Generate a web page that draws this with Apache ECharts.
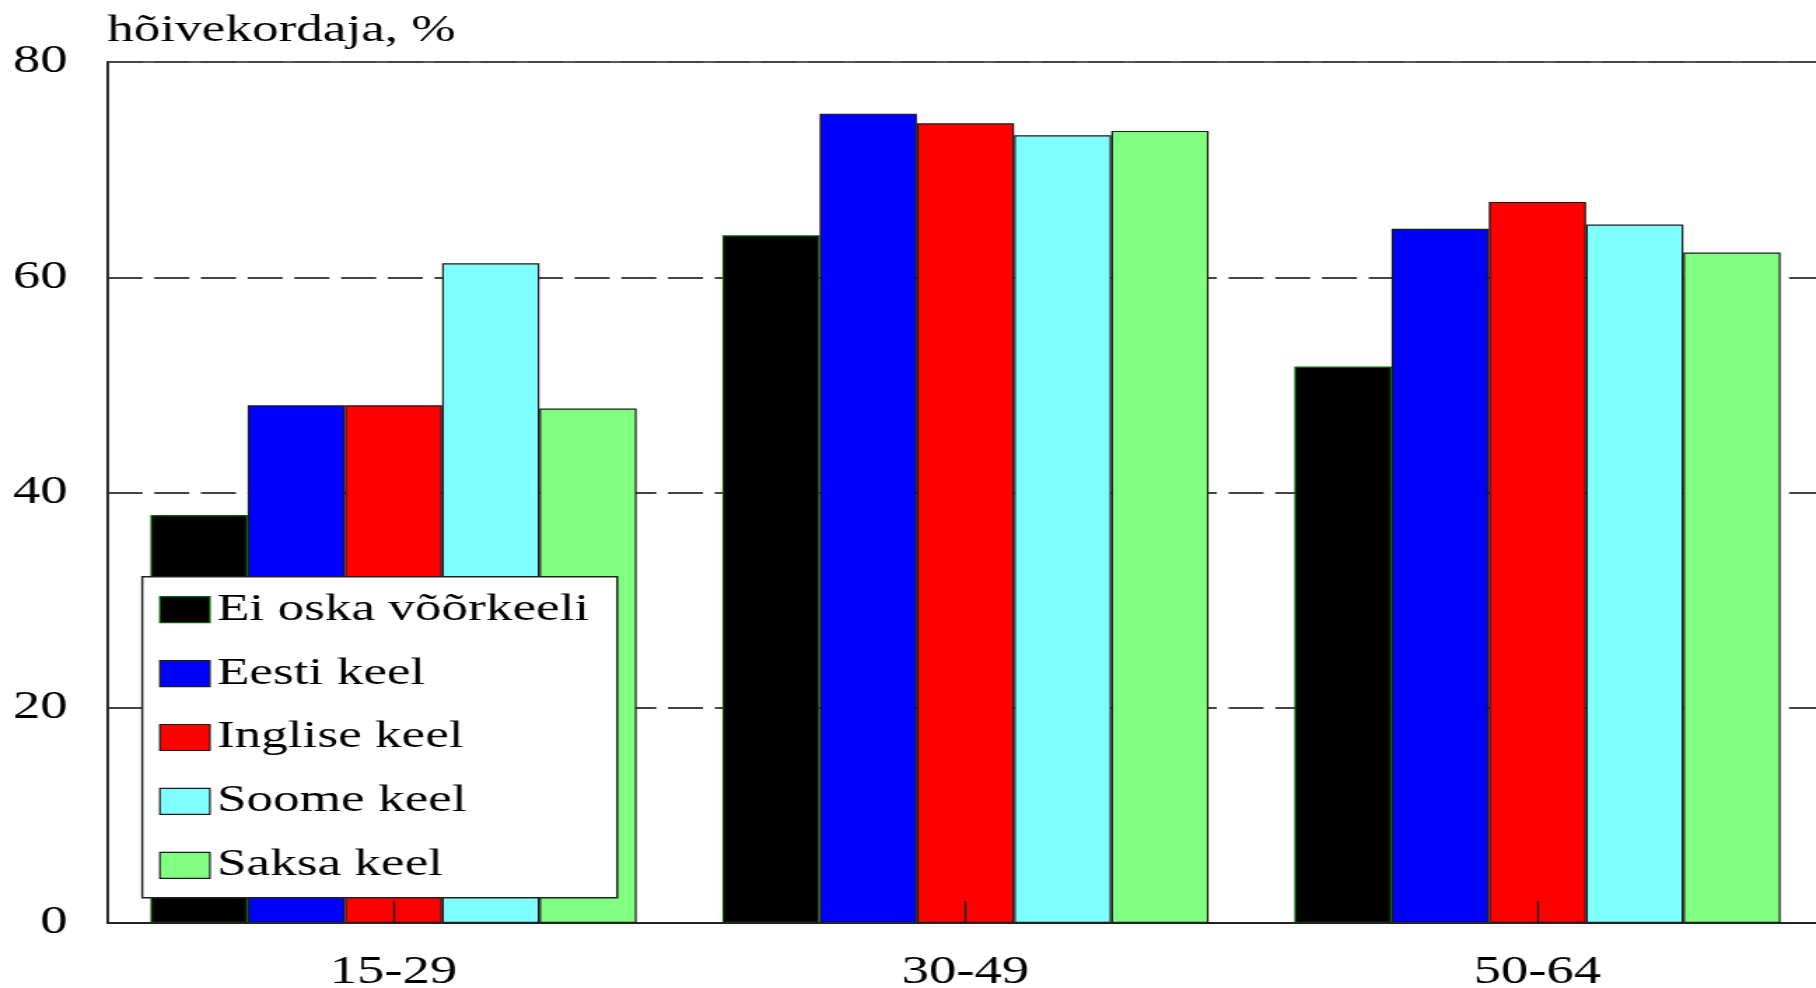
<!DOCTYPE html>
<html>
<head>
<meta charset="utf-8">
<script src="https://cdn.jsdelivr.net/npm/echarts@6/dist/echarts.min.js"></script>
<style>
  html, body { margin: 0; padding: 0; background: #ffffff; overflow: hidden; }
  #wrap { width: 1816px; height: 988px; overflow: hidden; position: relative; }
  #chart { width: 1297px; height: 988px; transform: scaleX(1.40015); transform-origin: 0 0; }
</style>
</head>
<body>
<div id="wrap"><div id="chart"></div></div>
<script>
// ---- data ----
const categories = ['15-29', '30-49', '50-64'];
const seriesNames = ['Ei oska võõrkeeli', 'Eesti keel', 'Inglise keel', 'Soome keel', 'Saksa keel'];
const eiOska  = [37.9, 63.9, 51.7];
const eesti   = [48.1, 75.2, 64.5];
const inglise = [48.1, 74.3, 67.0];
const soome   = [61.3, 73.2, 64.9];
const saksa   = [47.8, 73.6, 62.3];
const yTicks = { min: 0, max: 80, interval: 20 };
const yTitle = 'hõivekordaja, %';

// ---- styles ----
const fills   = ['#000000', '#0000ff', '#ff0000', '#80ffff', '#80ff80'];
const borders = ['#006400', '#1a1a1a', '#1a1a1a', '#1a1a1a', '#1a1a1a'];
const values  = [eiOska, eesti, inglise, soome, saksa];
const FONT = '"Liberation Serif", "Times New Roman", serif';

const chart = echarts.init(document.getElementById('chart'), null, { renderer: 'canvas' });

chart.setOption({
  animation: false,
  backgroundColor: '#ffffff',
  title: {
    text: yTitle,
    left: 76.5,
    top: 12.5,
    padding: 0,
    textStyle: { fontFamily: FONT, fontSize: 38, fontWeight: 'normal', color: '#000' }
  },
  grid: {
    left: 76.8, width: 1225.5, top: 62, bottom: 65,
    outerBoundsMode: 'none',
    containLabel: false,
    show: true, borderColor: '#222', borderWidth: 1.6, backgroundColor: 'transparent'
  },
  legend: {
    orient: 'vertical',
    z: 20,
    left: 101.6, top: 576.7,
    padding: [14, 20, 13.5, 12],
    backgroundColor: '#ffffff',
    borderColor: '#222', borderWidth: 1.5, borderRadius: 0,
    itemWidth: 35.7, itemHeight: 26, itemGap: 25.9,
    icon: 'rect',
    itemStyle: { borderWidth: 1.2 },
    textStyle: { fontFamily: FONT, fontSize: 38, color: '#000' },
    data: seriesNames
  },
  xAxis: {
    type: 'category',
    data: categories,
    z: 10,
    axisLine: { show: true, lineStyle: { color: '#222', width: 2 } },
    axisTick: { show: true, inside: true, alignWithLabel: true, length: 22, lineStyle: { color: '#222', width: 1.4 } },
    axisLabel: { fontFamily: FONT, fontSize: 39, color: '#000', margin: 30 },
    splitLine: { show: false }
  },
  yAxis: {
    type: 'value',
    min: yTicks.min, max: yTicks.max, interval: yTicks.interval,
    axisLine: { show: true, lineStyle: { color: '#222', width: 1.5 } },
    axisTick: { show: false },
    axisLabel: { fontFamily: FONT, fontSize: 39, color: '#000', margin: 28.5, padding: [6, 0, 0, 0] },
    splitLine: { show: true, lineStyle: { color: '#444', width: 2, type: [25, 8.36] } }
  },
  series: seriesNames.map((name, i) => ({
    name: name,
    type: 'bar',
    data: values[i],
    barGap: '0%',
    barCategoryGap: '15%',
    itemStyle: { color: fills[i], borderColor: borders[i], borderWidth: 1.2 },
    emphasis: { disabled: true }
  }))
});
</script>
</body>
</html>
